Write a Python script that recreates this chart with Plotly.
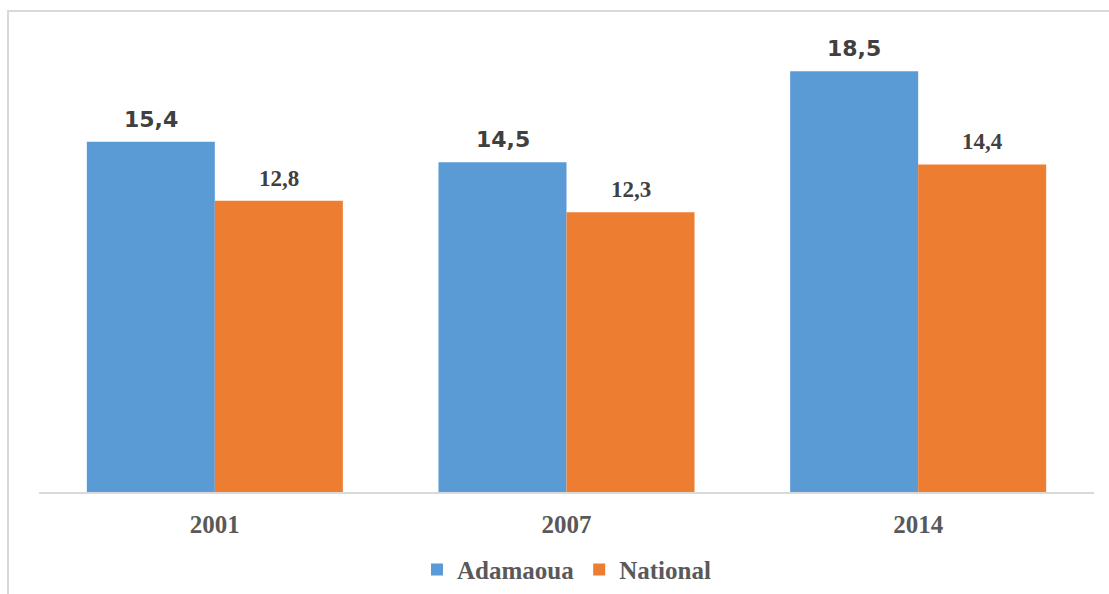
import plotly.graph_objects as go

years = ["2001", "2007", "2014"]
adamaoua = [15.4, 14.5, 18.5]
national = [12.8, 12.3, 14.4]

BLUE = "#5B9BD5"
ORANGE = "#ED7D31"
SERIF = "Liberation Serif, Times New Roman, serif"
SANS = "DejaVu Sans, Verdana, sans-serif"


def fmt(v):
    return f"{v:.1f}".replace(".", ",")


fig = go.Figure()
fig.add_trace(go.Bar(x=years, y=adamaoua, name="Adamaoua", marker_color=BLUE,
                     marker_line_width=0, showlegend=False))
fig.add_trace(go.Bar(x=years, y=national, name="National", marker_color=ORANGE,
                     marker_line_width=0, showlegend=False))

# legend entries drawn as small squares (invisible points off the y range)
for name, col in [("Adamaoua", BLUE), ("National", ORANGE)]:
    fig.add_trace(go.Scatter(x=[years[0]], y=[-100], mode="markers", name=name,
                             marker=dict(symbol="square", size=13, color=col),
                             hoverinfo="skip"))

# value labels above each bar; category positions given by index
annotations = []
for i, (a, n) in enumerate(zip(adamaoua, national)):
    annotations.append(dict(x=i, y=a, xref="x", yref="y", text=fmt(a),
                            showarrow=False, xshift=-64, yshift=8, yanchor="bottom",
                            font=dict(family=SANS, size=22, color="#404040", weight="bold")))
    annotations.append(dict(x=i, y=n, xref="x", yref="y", text=fmt(n),
                            showarrow=False, xshift=64, yshift=8, yanchor="bottom",
                            font=dict(family=SERIF, size=23, color="#404040", weight="bold")))

fig.update_layout(
    width=1109, height=594,
    margin=dict(l=39, r=15, t=37, b=102, autoexpand=False),
    paper_bgcolor="white", plot_bgcolor="white",
    barmode="group", bargap=0.272, bargroupgap=0,
    separators=",.",
    annotations=annotations,
    showlegend=True,
    legend=dict(orientation="h", x=0.50, xanchor="center", y=-0.171, yanchor="middle",
                font=dict(family=SERIF, size=25, color="#595959", weight="bold"),
                itemsizing="constant", itemwidth=30, bgcolor="rgba(0,0,0,0)"),
    xaxis=dict(type="category", categoryorder="array", categoryarray=years,
               range=[-0.5, len(years) - 0.5],
               showgrid=False, showline=True, linecolor="#D9D9D9", linewidth=2,
               ticks="outside", ticklen=9, tickcolor="rgba(0,0,0,0)",
               tickfont=dict(family=SERIF, size=25, color="#595959", weight="bold"),
               fixedrange=True),
    yaxis=dict(range=[0, 20], visible=False, showgrid=False, zeroline=False),
    shapes=[dict(type="rect", xref="paper", yref="paper",
                 x0=(8 - 39) / 1055, x1=1.2, y0=-0.5, y1=(492 - 11) / 455,
                 line=dict(color="#D9D9D9", width=2), layer="below")],
)

fig.write_html("out.html")
